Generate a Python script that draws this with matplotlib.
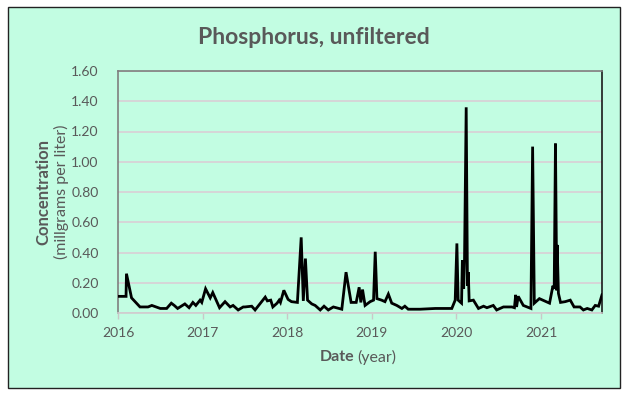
import matplotlib
matplotlib.use("Agg")
import matplotlib.pyplot as plt
from matplotlib.patches import Rectangle

# sample dates (decimal year) and unfiltered phosphorus, mg/L
years = [2016.00, 2016.095, 2016.10, 2016.16, 2016.26, 2016.355, 2016.40, 2016.50,
         2016.575, 2016.63, 2016.665, 2016.705, 2016.79, 2016.84, 2016.885, 2016.92,
         2016.97, 2016.99, 2017.035, 2017.09, 2017.12, 2017.20, 2017.265, 2017.325,
         2017.36, 2017.42, 2017.48, 2017.50, 2017.58, 2017.62, 2017.74, 2017.765,
         2017.805, 2017.83, 2017.88, 2017.905, 2017.92, 2017.96, 2018.01, 2018.05,
         2018.12, 2018.165, 2018.19, 2018.215, 2018.24, 2018.29, 2018.33, 2018.39,
         2018.435, 2018.485, 2018.545, 2018.645, 2018.695, 2018.755, 2018.815, 2018.85,
         2018.87, 2018.89, 2018.92, 2018.98, 2019.02, 2019.04, 2019.06, 2019.115,
         2019.155, 2019.195, 2019.235, 2019.295, 2019.355, 2019.39, 2019.43, 2019.57,
         2019.75, 2019.945, 2019.985, 2020.005, 2020.02, 2020.06, 2020.07, 2020.085,
         2020.095, 2020.115, 2020.13, 2020.14, 2020.15, 2020.20, 2020.26, 2020.32,
         2020.36, 2020.435, 2020.475, 2020.555, 2020.655, 2020.685, 2020.70, 2020.71,
         2020.73, 2020.79, 2020.88, 2020.90, 2020.92, 2020.98, 2021.02, 2021.10,
         2021.14, 2021.155, 2021.17, 2021.185, 2021.19, 2021.205, 2021.23, 2021.285,
         2021.345, 2021.39, 2021.46, 2021.50, 2021.545, 2021.60, 2021.64, 2021.68,
         2021.72]
conc = [0.11, 0.11, 0.26, 0.10, 0.04, 0.04, 0.05, 0.03,
        0.03, 0.065, 0.05, 0.03, 0.06, 0.035, 0.07, 0.05,
        0.085, 0.07, 0.16, 0.10, 0.135, 0.035, 0.075, 0.04,
        0.05, 0.02, 0.04, 0.04, 0.045, 0.02, 0.105, 0.08,
        0.085, 0.04, 0.065, 0.085, 0.07, 0.15, 0.09, 0.075,
        0.07, 0.50, 0.08, 0.36, 0.085, 0.06, 0.05, 0.02,
        0.045, 0.02, 0.04, 0.025, 0.27, 0.07, 0.07, 0.17,
        0.07, 0.155, 0.05, 0.075, 0.085, 0.405, 0.095, 0.085,
        0.075, 0.125, 0.065, 0.05, 0.03, 0.045, 0.025, 0.025,
        0.03, 0.03, 0.085, 0.46, 0.085, 0.065, 0.35, 0.16,
        0.34, 1.36, 0.18, 0.27, 0.08, 0.085, 0.03, 0.045,
        0.035, 0.05, 0.02, 0.04, 0.04, 0.035, 0.12, 0.04,
        0.11, 0.05, 0.03, 1.10, 0.065, 0.095, 0.085, 0.065,
        0.18, 0.16, 1.12, 0.15, 0.45, 0.13, 0.07, 0.075,
        0.085, 0.04, 0.04, 0.02, 0.03, 0.02, 0.05, 0.045,
        0.12]

year_ticks = [2016, 2017, 2018, 2019, 2020, 2021]
y_ticks = [0.0, 0.2, 0.4, 0.6, 0.8, 1.0, 1.2, 1.4, 1.6]

W, H = 628, 396
bg = "#C2FDE2"
grey = "#595959"

plt.rcParams['font.family'] = ['Lato', 'DejaVu Sans']

fig = plt.figure(figsize=(W / 100, H / 100), dpi=100)
fig.patch.set_facecolor("white")
fig.patches.append(Rectangle((8 / W, 1 - 388 / H), 612 / W, 381 / H,
                             transform=fig.transFigure, facecolor=bg,
                             edgecolor="#222222", linewidth=1.0, zorder=-5))

ax = fig.add_axes([118 / W, 1 - 313 / H, 484 / W, 242 / H])
ax.set_facecolor(bg)
ax.plot(years, conc, color="black", linewidth=2.0, solid_joinstyle="miter", zorder=3)

ax.set_xlim(2016, 2021.72)
ax.set_ylim(0, 1.6)
ax.set_xticks(year_ticks)
ax.set_xticklabels([str(y) for y in year_ticks])
ax.set_yticks(y_ticks)
ax.set_yticklabels([f"{v:.2f}" for v in y_ticks])
ax.grid(axis="y", color="#D8D2D6", linewidth=1.3, zorder=1)
ax.set_axisbelow(True)

ax.tick_params(axis="x", colors="#C8C8C8", length=4, width=1, labelcolor=grey,
               labelsize=10, pad=6)
ax.tick_params(axis="y", length=0, labelcolor=grey, labelsize=10, pad=14)

ax.spines["left"].set_color("#7F7F7F")
ax.spines["top"].set_color("#7F7F7F")
ax.spines["right"].set_color("#1A1A1A")
ax.spines["bottom"].set_color("#D0CCCE")
for s in ax.spines.values():
    s.set_linewidth(1.2)

fig.text(314 / W, 1 - 37 / H, "Phosphorus, unfiltered", ha="center", va="center",
         fontsize=16.5, fontweight="bold", color=grey)

# y label: two lines, first bold
fig.text(43 / W, 1 - 192 / H, "Concentration", rotation=90, ha="center", va="center",
         fontsize=12, fontweight="bold", color=grey)
fig.text(61 / W, 1 - 192 / H, "(millgrams per liter)", rotation=90, ha="center",
         va="center", fontsize=11.5, color=grey)

# x label: "Date" bold + "(year)" normal, centred as one
fig.canvas.draw()
r = fig.canvas.get_renderer()
t1 = fig.text(0, 1 - 357 / H, "Date", ha="left", va="center", fontsize=11.5,
              fontweight="bold", color=grey)
t2 = fig.text(0, 1 - 357 / H, "(year)", ha="left", va="center", fontsize=11.5,
              color=grey)
w1 = t1.get_window_extent(r).width
w2 = t2.get_window_extent(r).width
gap = 3
x0 = 358 - (w1 + w2 + gap) / 2
t1.set_x(x0 / W)
t2.set_x((x0 + w1 + gap) / W)

fig.savefig("out.png", dpi=100, facecolor=fig.get_facecolor())
